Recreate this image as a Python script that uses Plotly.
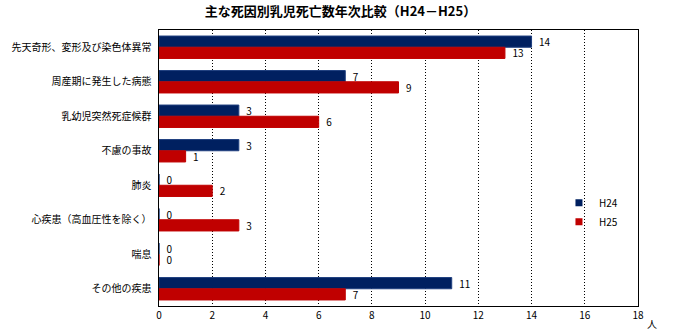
import plotly.graph_objects as go

categories = ["先天奇形、変形及び染色体異常", "周産期に発生した病態", "乳幼児突然死症候群",
              "不慮の事故", "肺炎", "心疾患（高血圧性を除く）", "喘息", "その他の疾患"]
h24 = [14, 7, 3, 3, 0, 0, 0, 11]
h25 = [13, 9, 6, 1, 2, 3, 0, 7]
x_ticks = [0, 2, 4, 6, 8, 10, 12, 14, 16, 18]

FONT = "Noto Sans CJK JP"
C24 = "#002060"
C25 = "#C00000"

fig = go.Figure()
fig.add_trace(go.Bar(y=categories, x=h24, name="H24", orientation="h", showlegend=False,
                     marker=dict(color=C24, line=dict(color="#1F3F7F", width=1)),
                     texttemplate="  %{x}", textposition="outside", cliponaxis=False,
                     constraintext="none",
                     textfont=dict(size=10, color="#000000", family=FONT)))
fig.add_trace(go.Bar(y=categories, x=h25, name="H25", orientation="h", showlegend=False,
                     marker=dict(color=C25, line=dict(color=C25, width=1)),
                     texttemplate="  %{x}", textposition="outside", cliponaxis=False,
                     constraintext="none",
                     textfont=dict(size=10, color="#000000", family=FONT)))
# legend entries with small square markers
fig.add_trace(go.Scatter(x=[None], y=[None], mode="markers", name="H24",
                         marker=dict(symbol="square", size=7, color=C24)))
fig.add_trace(go.Scatter(x=[None], y=[None], mode="markers", name="H25",
                         marker=dict(symbol="square", size=7, color=C25)))

fig.update_layout(
    width=681, height=335,
    margin=dict(l=157, r=43, t=30, b=29),
    paper_bgcolor="white", plot_bgcolor="white",
    barmode="group", bargap=0.35, bargroupgap=0,
    font=dict(family=FONT, size=10, color="#000000"),
    title=dict(text="<b>主な死因別乳児死亡数年次比較（H24－H25）</b>", x=0.5, xanchor="center",
               y=0.965, yanchor="middle", font=dict(size=13, family=FONT, color="#000000")),
    showlegend=True,
    legend=dict(x=0.835, y=0.427, xanchor="left", yanchor="top", traceorder="normal",
                font=dict(size=10, family=FONT), bgcolor="rgba(0,0,0,0)",
                itemwidth=30),
    xaxis=dict(range=[0, 18], tickvals=x_ticks, showgrid=True, gridcolor="#000000",
               griddash="1px,2px", gridwidth=1, showline=True, linecolor="#000000", linewidth=1,
               mirror=True, ticks="", zeroline=False, tickfont=dict(size=10, family=FONT)),
    yaxis=dict(autorange="reversed", showline=True, linecolor="#000000", linewidth=1,
               mirror=True, ticks="", tickfont=dict(size=10, family=FONT), ticksuffix="  "),
)
fig.add_annotation(text="人", xref="paper", yref="paper", x=1.03, y=-0.062,
                   xanchor="center", yanchor="middle", showarrow=False,
                   font=dict(size=10, family=FONT))

fig.write_html("out.html")
